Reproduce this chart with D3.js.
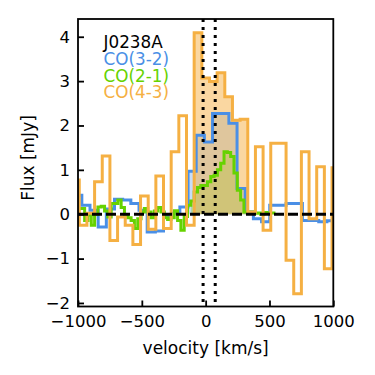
<!DOCTYPE html>
<html>
<head>
<meta charset="utf-8">
<script src="https://cdn.jsdelivr.net/npm/d3@7"></script>
<style>
  body { margin: 0; background: #fff; }
  svg text { font-family: "DejaVu Sans", sans-serif; }
</style>
</head>
<body>
<div class="chart"></div>
<script>
// CO(4-3) spectrum, 60 km/s channels
var velo43 = d3.range(35).map(function(k){ return -1020 + 60 * k; });
var flux43 = [0.77, -0.25, 0.02, 0.73, 1.31, -0.59, -0.06, -0.25, -0.68, 0.41,
              -0.34, 0.86, -0.32, 1.41, 2.22, -0.25, 4.09, 3.07, 2.99, 3.19,
              2.65, 2.12, 2.14, 0.05, 1.52, -0.36, 1.60, 1.60, -1.04, -1.79,
              1.41, -0.10, 1.07, -1.23, 1.05];

// CO(3-2) spectrum, 64 km/s channels
var velo32 = d3.range(32).map(function(k){ return -1002 + 64 * k; });
var flux32 = [0.43, 0.20, 0.09, -0.29, 0.12, 0.34, 0.32, 0.24, 0.09, -0.40,
              -0.38, -0.05, 0.02, 0.16, 0.97, 1.78, 1.63, 2.27, 2.27, 2.05,
              0.58, 0.05, -0.10, -0.17, 0.20, 0.20, 0.24, 0.24, -0.14, -0.14,
              -0.17, -0.15];

// CO(2-1) spectrum, 26 km/s channels
var velo21 = d3.range(60).map(function(k){ return -987 + 26 * k; });
var flux21 = [0.13, 0.13, -0.14, -0.02, -0.25, 0.00, 0.16, 0.18, 0.07, -0.06,
              0.24, 0.24, 0.32, 0.15, -0.02, -0.08, -0.14, -0.32, -0.10, 0.05,
              0.13, 0.05, -0.08, 0.07, 0.15, 0.05, -0.08, -0.12, -0.08, 0.08,
              -0.14, -0.36, -0.05, 0.20, 0.30, 0.50, 0.60, 0.65, 0.65, 0.73,
              0.85, 0.88, 1.00, 1.15, 1.41, 1.39, 1.30, 0.93, 0.54, 0.32,
              0.05, 0.03, 0.05, 0.02, 0.03, 0.00, 0.04, 0.02, 0.03, 0.03];

var xTicks = [-1000, -500, 0, 500, 1000];
var yTicks = [-2, -1, 0, 1, 2, 3, 4];
var vLines = [-20, 75];
var fillRange = [-110, 330];

var series = [
  {name: "CO(3-2)", v: velo32, f: flux32, w: 64, color: "#4a8fe6", alpha: 0.3},
  {name: "CO(2-1)", v: velo21, f: flux21, w: 26, color: "#66d200", alpha: 0.3},
  {name: "CO(4-3)", v: velo43, f: flux43, w: 60, color: "#f5b043", alpha: 0.5}
];

var W = 375, H = 375;
var x = d3.scaleLinear().domain([-1000, 1000]).range([78, 333.3]);
var y = d3.scaleLinear().domain([-2.08, 4.40]).range([306.5, 19]);

var svg = d3.select('.chart').append('svg')
  .attr('width', W)
  .attr('height', H);

svg.append('clipPath').attr('id', 'plotclip')
  .append('rect')
  .attr('x', x(-1000)).attr('y', y(4.40))
  .attr('width', x(1000) - x(-1000))
  .attr('height', y(-2.08) - y(4.40));

var plot = svg.append('g').attr('clip-path', 'url(#plotclip)');

// filled line region, bins edge to edge
series.forEach(function(s){
  var pts = [];
  s.v.forEach(function(v, i){
    if (v >= fillRange[0] && v <= fillRange[1]) pts.push([v, s.f[i]]);
  });
  var p = d3.path();
  p.moveTo(x(pts[0][0] - s.w / 2), y(0));
  pts.forEach(function(d){
    p.lineTo(x(d[0] - s.w / 2), y(d[1]));
    p.lineTo(x(d[0] + s.w / 2), y(d[1]));
  });
  p.lineTo(x(pts[pts.length - 1][0] + s.w / 2), y(0));
  p.closePath();
  plot.append('path')
    .attr('d', p.toString())
    .style('fill', s.color)
    .style('fill-opacity', s.alpha)
    .style('stroke', 'none');
});

var line = d3.line()
  .x(function(d){ return x(d[0]); })
  .y(function(d){ return y(d[1]); })
  .curve(d3.curveStep);

series.forEach(function(s){
  plot.append('path')
    .attr('d', line(s.v.map(function(v, i){ return [v, s.f[i]]; })))
    .style('fill', 'none')
    .style('stroke', s.color)
    .style('stroke-width', 3)
    .style('stroke-linejoin', 'miter');
});

// zero level
plot.append('line')
  .attr('x1', x(-1000)).attr('x2', x(1000))
  .attr('y1', y(0)).attr('y2', y(0))
  .style('stroke', 'black')
  .style('stroke-width', 3)
  .style('stroke-dasharray', '10,4');

// velocity markers
plot.selectAll('.vline').data(vLines).enter()
  .append('line')
  .attr('x1', function(d){ return x(d); })
  .attr('x2', function(d){ return x(d); })
  .attr('y1', y(4.40)).attr('y2', y(-2.08))
  .style('stroke', 'black')
  .style('stroke-width', 3)
  .style('stroke-dasharray', '3,5');

// axes, ticks inward
var xAxis = d3.axisBottom(x).tickValues(xTicks).tickSizeInner(-6).tickSizeOuter(0).tickPadding(16)
  .tickFormat(d3.format('d'));
var yAxis = d3.axisLeft(y).tickValues(yTicks).tickSizeInner(-6).tickSizeOuter(0).tickPadding(15)
  .tickFormat(d3.format('d'));

var gx = svg.append('g').attr('transform', 'translate(0,' + y(-2.08) + ')').call(xAxis);
var gy = svg.append('g').attr('transform', 'translate(' + x(-1000) + ',0)').call(yAxis);
[gx, gy].forEach(function(g){
  g.select('.domain').remove();
  g.selectAll('.tick line').style('stroke', 'black').style('stroke-width', 1.8);
  g.selectAll('.tick text').style('font-size', '16.5px').style('fill', 'black')
    .style('font-family', '"DejaVu Sans", sans-serif');
});
gx.selectAll('.tick text').attr('dy', '0.71em').attr('y', 9);
gy.selectAll('.tick text').attr('x', -8);

svg.append('rect')
  .attr('x', x(-1000)).attr('y', y(4.40))
  .attr('width', x(1000) - x(-1000))
  .attr('height', y(-2.08) - y(4.40))
  .style('fill', 'none')
  .style('stroke', 'black')
  .style('stroke-width', 1.8);

svg.append('text')
  .attr('x', (x(-1000) + x(1000)) / 2).attr('y', 354)
  .attr('text-anchor', 'middle')
  .style('font-size', '17px')
  .text('velocity [km/s]');

svg.append('text')
  .attr('transform', 'translate(34,158) rotate(-90)')
  .attr('text-anchor', 'middle')
  .style('font-size', '17px')
  .text('Flux [mJy]');

// legend text
var labels = [{t: 'J0238A', c: 'black'}].concat(series.map(function(s){ return {t: s.name, c: s.color}; }));
var baseY = [48, 65, 81.5, 98];
svg.selectAll('.lab').data(labels).enter()
  .append('text')
  .attr('x', 103.5)
  .attr('y', function(d, i){ return baseY[i]; })
  .style('font-size', '16.8px')
  .style('fill', function(d){ return d.c; })
  .text(function(d){ return d.t; });
</script>
</body>
</html>
